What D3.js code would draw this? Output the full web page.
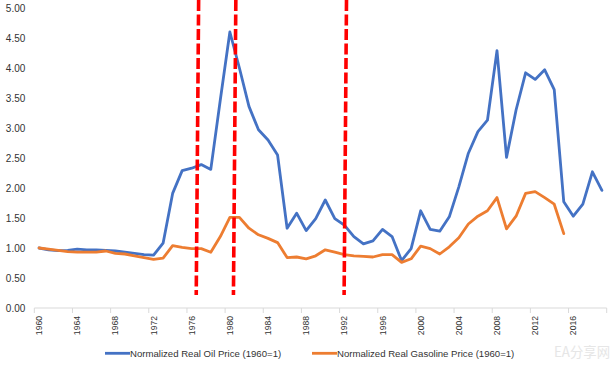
<!DOCTYPE html>
<html>
<head>
<meta charset="utf-8">
<script src="https://cdn.jsdelivr.net/npm/d3@7"></script>
<style>
  html, body { margin: 0; padding: 0; background: #fff; }
  svg { display: block; font-family: "Liberation Sans", Arial, sans-serif; }
</style>
</head>
<body>
<svg id="chart" width="616" height="366"></svg>
<script>
// ---- data ----
const years = d3.range(1960, 2020);
const yTicks = [0, 0.5, 1, 1.5, 2, 2.5, 3, 3.5, 4, 4.5, 5];
const xTickYears = [1960, 1964, 1968, 1972, 1976, 1980, 1984, 1988, 1992, 1996, 2000, 2004, 2008, 2012, 2016];
const oilName = "Normalized Real Oil Price (1960=1)";
const gasName = "Normalized Real Gasoline Price (1960=1)";
const oilValues = [
  1.00, 0.97, 0.955, 0.96, 0.98, 0.97, 0.97, 0.96, 0.95, 0.93,
  0.91, 0.89, 0.88, 1.08, 1.91, 2.29, 2.33, 2.39, 2.31, 3.47,
  4.60, 4.00, 3.36, 2.97, 2.80, 2.55, 1.33, 1.58, 1.29, 1.49,
  1.80, 1.49, 1.38, 1.19, 1.07, 1.12, 1.31, 1.19, 0.79, 0.99,
  1.62, 1.31, 1.28, 1.52, 2.02, 2.58, 2.94, 3.13, 4.29, 2.51,
  3.30, 3.92, 3.81, 3.97, 3.64, 1.77, 1.53, 1.73, 2.27, 1.96
];
const gasValues = [
  1.00, 0.98, 0.96, 0.94, 0.93, 0.93, 0.93, 0.95, 0.91, 0.90,
  0.87, 0.84, 0.81, 0.83, 1.04, 1.01, 0.99, 0.99, 0.93, 1.19,
  1.51, 1.51, 1.33, 1.22, 1.16, 1.09, 0.84, 0.85, 0.82, 0.87,
  0.97, 0.93, 0.89, 0.87, 0.86, 0.85, 0.89, 0.89, 0.76, 0.82,
  1.03, 0.99, 0.90, 1.02, 1.17, 1.40, 1.53, 1.62, 1.84, 1.32,
  1.53, 1.91, 1.94, 1.84, 1.73, 1.24
];
const markerYears = [1976.6, 1980.5, 1992.1];
const watermark = "EA分享网";

// ---- layout ----
const plot = { left: 34.3, right: 606.7, top: 8, bottom: 308 };
const svg = d3.select("#chart");

const xBand = d3.scaleBand().domain(years).range([plot.left, plot.right]).padding(0);
const bw = xBand.bandwidth();
const xc = yr => xBand(yr) + bw / 2;
const xYear = d3.scaleLinear().domain([1960, 2020]).range([plot.left + bw / 2, plot.right + bw / 2]);
const y = d3.scaleLinear().domain([0, 5]).range([plot.bottom, plot.top]);

// y axis labels
const yAxis = d3.axisLeft(y).tickValues(yTicks).tickFormat(d3.format(".2f")).tickSize(0).tickPadding(9);
const gy = svg.append("g").attr("transform", `translate(${plot.left},0)`).call(yAxis);
gy.select(".domain").remove();
gy.selectAll("text").attr("font-size", 10).attr("fill", "#333").attr("font-family", "Liberation Sans, Arial, sans-serif");

// x axis line
svg.append("line")
  .attr("x1", plot.left).attr("x2", plot.right)
  .attr("y1", plot.bottom).attr("y2", plot.bottom)
  .attr("stroke", "#d9d9d9").attr("stroke-width", 1);
// tick marks at category boundaries
const tickEdges = xTickYears.map(yr => xBand(yr)).concat([plot.right]);
svg.append("g").selectAll("line").data(tickEdges).join("line")
  .attr("x1", d => d).attr("x2", d => d)
  .attr("y1", plot.bottom).attr("y2", plot.bottom + 5)
  .attr("stroke", "#d9d9d9").attr("stroke-width", 1);
// tick labels (rotated)
svg.append("g").selectAll("text").data(xTickYears).join("text")
  .attr("transform", d => `translate(${xc(d) + 3},${plot.bottom + 8}) rotate(-90)`)
  .attr("text-anchor", "end")
  .attr("font-size", 8.6)
  .attr("fill", "#333")
  .text(d => d);

// lines
const line = d3.line().x(d => xc(d.year)).y(d => y(d.v));
const oilData = oilValues.map((v, i) => ({ year: years[i], v }));
const gasData = gasValues.map((v, i) => ({ year: years[i], v }));

svg.append("path").datum(oilData)
  .attr("d", line).attr("fill", "none")
  .attr("stroke", "#4472C4").attr("stroke-width", 2.8)
  .attr("stroke-linejoin", "round").attr("stroke-linecap", "round");
svg.append("path").datum(gasData)
  .attr("d", line).attr("fill", "none")
  .attr("stroke", "#ED7D31").attr("stroke-width", 2.8)
  .attr("stroke-linejoin", "round").attr("stroke-linecap", "round");

// red dashed markers
svg.append("g").selectAll("line").data(markerYears).join("line")
  .attr("x1", d => xYear(d) + 1.2).attr("x2", d => xYear(d) - 1.2)
  .attr("y1", 0).attr("y2", 295)
  .attr("stroke", "#FF0000").attr("stroke-width", 3.6)
  .attr("stroke-dasharray", "11,3.5");

// legend
const legend = svg.append("g").attr("font-size", 9.6).attr("fill", "#333");
const items = [
  { name: oilName, color: "#4472C4", x: 105 },
  { name: gasName, color: "#ED7D31", x: 312 }
];
items.forEach(it => {
  legend.append("line")
    .attr("x1", it.x).attr("x2", it.x + 25)
    .attr("y1", 353.3).attr("y2", 353.3)
    .attr("stroke", it.color).attr("stroke-width", 2.8);
  legend.append("text")
    .attr("x", it.x + 25).attr("y", 356.8)
    .attr("fill", "#333")
    .text(it.name);
});

// watermark
svg.append("text")
  .attr("x", 554).attr("y", 357)
  .attr("font-size", 14)
  .attr("font-family", "Noto Sans CJK SC, sans-serif")
  .attr("textLength", 56)
  .attr("lengthAdjust", "spacingAndGlyphs")
  .attr("fill", "#e6e6e6")
  .text(watermark);
</script>
</body>
</html>
